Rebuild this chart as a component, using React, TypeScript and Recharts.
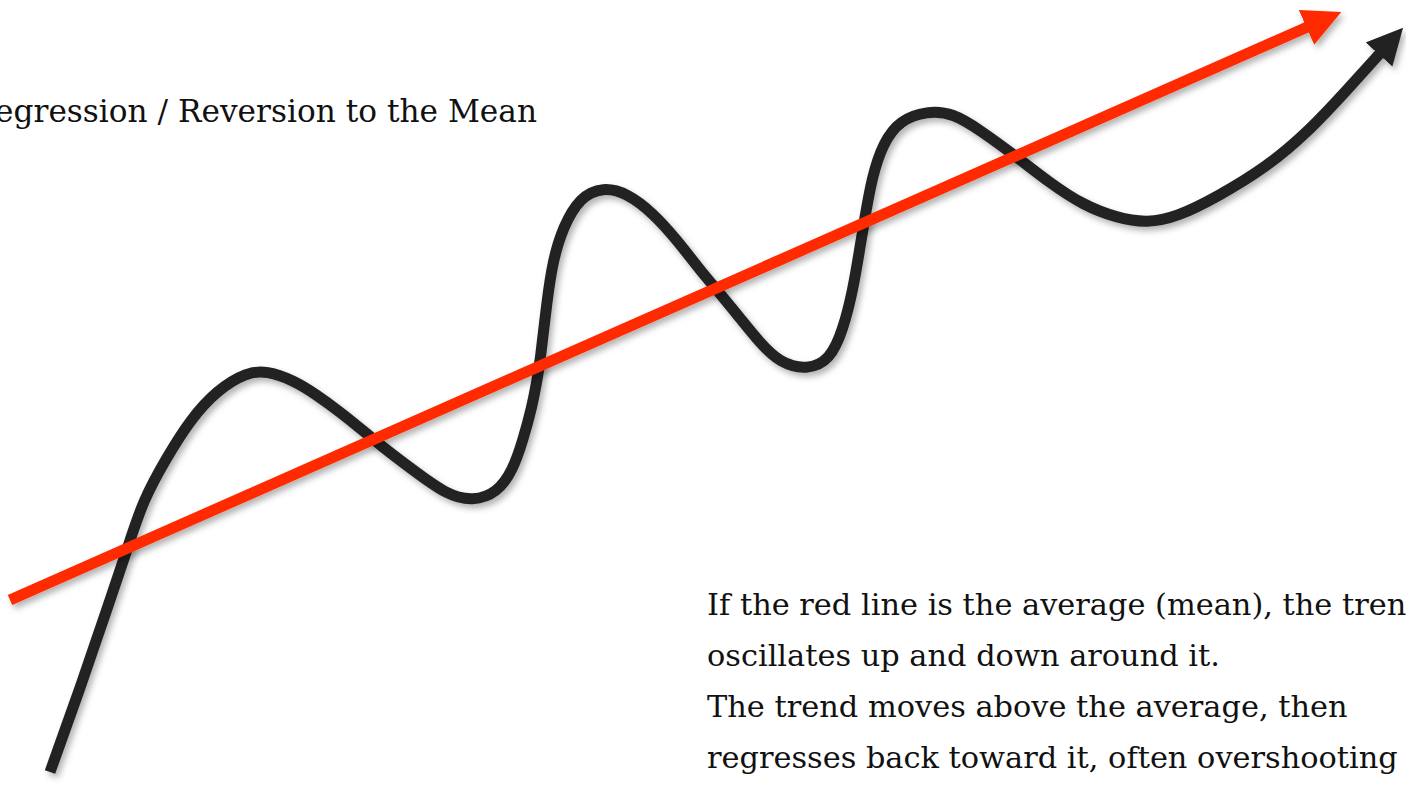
import { LineChart, Line, XAxis, YAxis } from "recharts";

const W = 1406;
const H = 785;

const trendX = [50, 83, 110, 127, 143, 167, 190, 217, 247, 267, 293, 317, 340, 360, 380, 413, 447, 473, 497, 513, 523, 532, 537, 540, 547, 553, 563, 580, 603, 627, 653, 677, 700, 717, 740, 760, 780, 807, 830, 843, 853, 860, 865, 872, 883, 900, 927, 953, 980, 1017, 1050, 1083, 1117, 1147, 1177, 1217, 1267, 1310, 1347, 1383];
const trendY = [13, 105, 185, 235, 285, 328, 365, 395, 413, 414, 405, 390, 373, 357, 340, 315, 290, 284, 292, 315, 345, 378, 405, 422, 485, 525, 558, 588, 598, 592, 572, 545, 515, 495, 467, 442, 422, 415, 425, 455, 495, 538, 568, 608, 642, 665, 674, 672, 655, 628, 602, 580, 567, 562, 568, 588, 618, 655, 695, 735];

// red mean line
const meanX = [10, 1312];
const meanY = [185, 760];

const titleText = "Regression / Reversion to the Mean";
const noteLines = [
  "If the red line is the average (mean), the trend",
  "oscillates up and down around it.",
  "The trend moves above the average, then",
  "regresses back toward it, often overshooting",
];

const trend = trendX.map((x, i) => ({ x, y: trendY[i] }));
const mean = meanX.map((x, i) => ({ x, y: meanY[i] }));

const serif = "'DejaVu Serif', 'Liberation Serif', serif";

export default function App() {
  return (
    <div style={{ position: "absolute", left: 0, top: 0, width: W, height: H, overflow: "hidden", background: "#fff" }}>
      <LineChart width={W} height={H} margin={{ top: 0, right: 0, bottom: 0, left: 0 }}>
        <defs>
          <filter id="soft" x="-10%" y="-10%" width="130%" height="130%">
            <feDropShadow dx="3" dy="4" stdDeviation="3" floodColor="#000" floodOpacity="0.3" />
          </filter>
          <marker id="redHead" viewBox="0 0 40 40" markerWidth={40} markerHeight={40} refX={6} refY={20} orient="auto" markerUnits="userSpaceOnUse">
            <path d="M0,1 L38,20 L0,39 z" fill="#ff2a00" />
          </marker>
          <marker id="blackHead" viewBox="0 0 40 40" markerWidth={40} markerHeight={40} refX={6} refY={20} orient="auto" markerUnits="userSpaceOnUse">
            <path d="M0,2 L36,20 L0,38 z" fill="#222" />
          </marker>
        </defs>
        <XAxis type="number" dataKey="x" domain={[0, W]} hide allowDataOverflow />
        <YAxis type="number" dataKey="y" domain={[0, H]} hide allowDataOverflow />
        <Line
          data={trend}
          dataKey="y"
          type="basis"
          stroke="#222"
          strokeWidth={11}
          strokeLinecap="butt"
          dot={false}
          activeDot={false}
          filter="url(#soft)"
          markerEnd="url(#blackHead)"
          isAnimationActive={false}
        />
        <Line
          data={mean}
          dataKey="y"
          type="linear"
          stroke="#ff2a00"
          strokeWidth={11}
          strokeLinecap="butt"
          dot={false}
          activeDot={false}
          filter="url(#soft)"
          markerEnd="url(#redHead)"
          isAnimationActive={false}
        />
      </LineChart>
      <div style={{ position: "absolute", right: W - 537, top: 91, fontFamily: serif, fontSize: 31.2, lineHeight: "40px", color: "#111", whiteSpace: "nowrap" }}>
        {titleText}
      </div>
      <div style={{ position: "absolute", left: 707, top: 579, fontFamily: serif, fontSize: 30.4, lineHeight: "51px", color: "#111", whiteSpace: "nowrap" }}>
        {noteLines.map((l) => (
          <div key={l}>{l}</div>
        ))}
      </div>
    </div>
  );
}
